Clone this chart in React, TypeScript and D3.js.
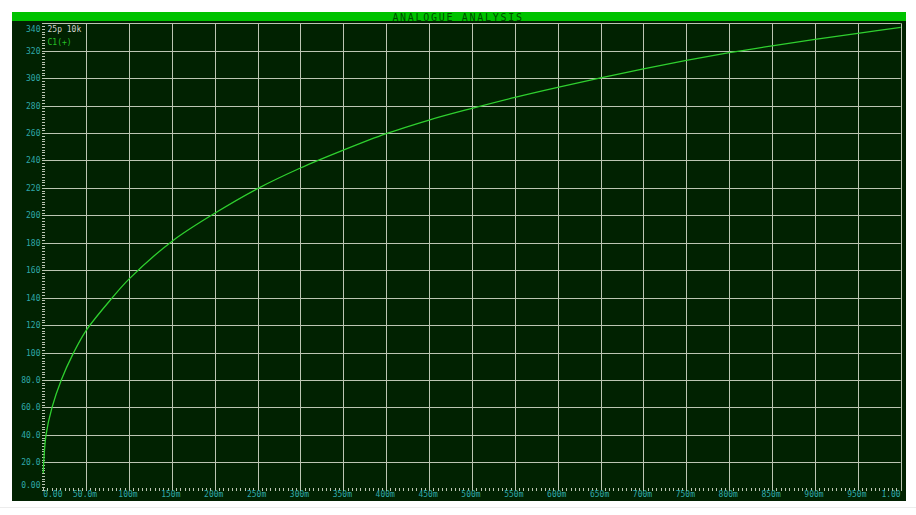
import React from "react";
import * as d3 from "d3";

const timeValues = [0, 0.0006, 0.0033, 0.0103, 0.0211, 0.0348, 0.05, 0.08, 0.1, 0.15, 0.2, 0.25, 0.3, 0.35, 0.4, 0.45, 0.5, 0.55, 0.6, 0.65, 0.7, 0.75, 0.8, 0.85, 0.9, 0.95, 1.0];
const voltageValues = [12, 20, 40, 60, 80, 99, 116, 139.5, 153.5, 181, 201.5, 219.5, 234.5, 247.5, 259.5, 269.5, 278, 286, 293.3, 300.2, 306.8, 313, 318.6, 323.6, 328.3, 332.7, 337];
const xTickValues = [0, 0.05, 0.1, 0.15, 0.2, 0.25, 0.3, 0.35, 0.4, 0.45, 0.5, 0.55, 0.6, 0.65, 0.7, 0.75, 0.8, 0.85, 0.9, 0.95, 1.0];
const xTickLabels = ["0.00", "50.0m", "100m", "150m", "200m", "250m", "300m", "350m", "400m", "450m", "500m", "550m", "600m", "650m", "700m", "750m", "800m", "850m", "900m", "950m", "1.00"];
const yTickValues = [0, 20, 40, 60, 80, 100, 120, 140, 160, 180, 200, 220, 240, 260, 280, 300, 320, 340];
const yTickLabels = ["0.00", "20.0", "40.0", "60.0", "80.0", "100", "120", "140", "160", "180", "200", "220", "240", "260", "280", "300", "320", "340"];
const titleText = "ANALOGUE ANALYSIS";
const infoText = "25p 10k";
const seriesName = "C1(+)";

const W = 916;
const H = 515;
const FONT = "'DejaVu Sans Mono', 'Liberation Mono', monospace";

export default function App() {
  const x = d3.scaleLinear().domain([0, 1]).range([43.2, 900.7]);
  const y = d3.scaleLinear().domain([0, 340]).range([489.7, 23.3]);
  const px = (v: number) => Math.round(v) + 0.5;

  const data = timeValues.map((t, i) => [t, voltageValues[i]] as [number, number]);
  const line = d3
    .line<[number, number]>()
    .x((d) => x(d[0]))
    .y((d) => y(d[1]))
    .curve(d3.curveCatmullRom.alpha(0.5));

  const gridColor = "#bcc5b3";
  const labelColor = "#2fa9a9";

  const xMinor = d3.range(0, 201).map((i) => i * 0.005);
  const yMinor = d3.range(0, 171).map((i) => i * 2);

  return (
    <svg
      width={W}
      height={H}
      style={{ position: "absolute", left: 0, top: 0, display: "block" }}
      xmlns="http://www.w3.org/2000/svg"
    >
      <rect x={0} y={0} width={W} height={H} fill="#ffffff" />
      <line x1={0} x2={W} y1={507.5} y2={507.5} stroke="#ececec" />
      {/* header */}
      <rect x={12} y={12} width={894} height={9} fill="#00c200" />
      <text
        x={458}
        y={20.5}
        textAnchor="middle"
        fontFamily={FONT}
        fontSize={10}
        letterSpacing={1.7}
        fill="#004a00"
      >
        {titleText}
      </text>
      {/* dark panel */}
      <rect x={12} y={21} width={894} height={480} fill="#012201" />

      {/* grid */}
      {xTickValues.slice(1).map((t) => (
        <line
          key={"gx" + t}
          x1={px(x(t))}
          x2={px(x(t))}
          y1={y(340)}
          y2={y(0)}
          stroke={gridColor}
          strokeWidth={1}
        />
      ))}
      {yTickValues.slice(1).map((v) => (
        <line
          key={"gy" + v}
          x1={x(0)}
          x2={x(1)}
          y1={px(y(v))}
          y2={px(y(v))}
          stroke={gridColor}
          strokeWidth={1}
        />
      ))}

      {/* minor ticks */}
      {xMinor.map((t, i) => (
        <line
          key={"mx" + i}
          x1={px(x(t))}
          x2={px(x(t))}
          y1={491}
          y2={488}
          stroke={gridColor}
          strokeWidth={1}
        />
      ))}
      {yMinor.map((v, i) => (
        <line
          key={"my" + i}
          x1={42}
          x2={45}
          y1={px(y(v))}
          y2={px(y(v))}
          stroke={gridColor}
          strokeWidth={1}
        />
      ))}

      {/* curve */}
      <path d={line(data) || ""} fill="none" stroke="#2fd02f" strokeWidth={1.3} />

      {/* y labels */}
      {yTickValues.map((v, i) => {
        let cy = y(v);
        if (cy > 485) cy = 485;
        if (cy < 29) cy = 29;
        return (
          <text
            key={"yl" + v}
            x={40.5}
            y={cy + 3}
            textAnchor="end"
            fontFamily={FONT}
            fontSize={8}
            fill={labelColor}
          >
            {yTickLabels[i]}
          </text>
        );
      })}

      {/* x labels */}
      {xTickValues.map((t, i) => {
        const anchor = i === 0 ? "start" : i === xTickValues.length - 1 ? "end" : "middle";
        const lx = i === 0 ? x(0) : i === xTickValues.length - 1 ? x(1) : x(t) - 1;
        return (
          <text
            key={"xl" + t}
            x={lx}
            y={496.5}
            textAnchor={anchor}
            fontFamily={FONT}
            fontSize={8}
            fill={labelColor}
          >
            {xTickLabels[i]}
          </text>
        );
      })}

      {/* legend texts */}
      <text x={47.5} y={32} fontFamily={FONT} fontSize={8} fill="#cfd2cc">
        {infoText}
      </text>
      <text x={47.5} y={44.5} fontFamily={FONT} fontSize={8} fill="#25c025">
        {seriesName}
      </text>
    </svg>
  );
}
